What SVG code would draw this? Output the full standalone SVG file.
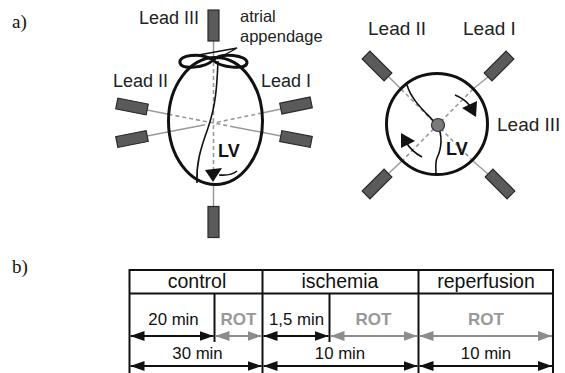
<svg xmlns="http://www.w3.org/2000/svg" width="565" height="373" viewBox="0 0 565 373">
  <defs>
    <style>
      .lbl { font-family: "Liberation Sans", Arial, sans-serif; font-size: 18px; fill: #222; }
      .lbl2 { font-family: "Liberation Sans", Arial, sans-serif; font-size: 19px; fill: #222; }
      .ann { font-family: "Liberation Sans", Arial, sans-serif; font-size: 16.5px; fill: #222; }
      .lv { font-family: "Liberation Sans", Arial, sans-serif; font-size: 18px; font-weight: bold; fill: #111; }
      .tag { font-family: "Liberation Serif", "Times New Roman", serif; font-size: 19px; fill: #111; }
      .hdr { font-family: "Liberation Sans", Arial, sans-serif; font-size: 19.5px; fill: #111; text-anchor: middle; }
      .tbl { font-family: "Liberation Sans", Arial, sans-serif; font-size: 16.8px; fill: #111; text-anchor: middle; }
      .rot { font-family: "Liberation Sans", Arial, sans-serif; font-size: 17px; font-weight: bold; fill: #999; text-anchor: middle; }
      .elec { fill: #5a5a5a; stroke: #2a2a2a; stroke-width: 1.2; }
      .wire { stroke: #9a9a9a; stroke-width: 1.5; fill: none; }
      .dash { stroke: #9a9a9a; stroke-width: 1.6; stroke-dasharray: 4 3; fill: none; }
      .heart { fill: none; stroke: #111; stroke-width: 3; }
      .sep { fill: none; stroke: #111; stroke-width: 1.6; }
      .grid { stroke: #111; stroke-width: 2; fill: none; }
      .blk { stroke: #111; stroke-width: 2; fill: none; }
      .gry { stroke: #8c8c8c; stroke-width: 2; fill: none; }
    </style>
    <marker id="ab" viewBox="0 0 14 10" refX="14" refY="5" markerWidth="14" markerHeight="10" markerUnits="userSpaceOnUse" orient="auto-start-reverse">
      <path d="M0,0 L14,5 L0,10 Z" fill="#111"/>
    </marker>
    <marker id="ag" viewBox="0 0 14 10" refX="14" refY="5" markerWidth="14" markerHeight="10" markerUnits="userSpaceOnUse" orient="auto-start-reverse">
      <path d="M0,0 L14,5 L0,10 Z" fill="#8c8c8c"/>
    </marker>
  </defs>

  <rect width="565" height="373" fill="#fff"/>

  <text class="tag" x="12" y="28">a)</text>
  <text class="tag" x="12" y="273">b)</text>

  <!-- Frontal view: elliptical heart with three limb leads -->
  <g id="heart-front">
    <g id="front-wires">
      <line class="wire" x1="213.5" y1="41" x2="213.5" y2="58"/>
      <line class="dash" x1="213.5" y1="62" x2="213.5" y2="170" stroke-dasharray="3 3"/>
      <line class="wire" x1="213.5" y1="185" x2="213.5" y2="207"/>
      <line class="wire" x1="147" y1="110" x2="168.5" y2="114.3"/>
      <line class="dash" x1="168.5" y1="114.3" x2="213.5" y2="123"/>
      <line class="wire" x1="147" y1="136" x2="205" y2="124.7"/>
      <line class="wire" x1="281" y1="109" x2="262" y2="113"/>
      <line class="dash" x1="262" y1="113" x2="213.5" y2="123"/>
      <line class="wire" x1="281" y1="136" x2="234" y2="127"/>
      <line class="dash" x1="234" y1="127" x2="213.5" y2="123"/>
    </g>
    <ellipse class="heart" cx="215.5" cy="121" rx="47" ry="63.5"/>
    <path class="heart" stroke-width="2.4" d="M213,60 C200,52 178,55 180,63 C182,70 205,68 213,60 C221,52 248,55 247,63 C246,70 221,68 213,60 Z"/>
    <path class="sep" d="M218,61 C217,85 216,105 208,128 C200,150 196,165 197,183"/>
    <path fill="none" stroke="#111" stroke-width="1.6" d="M237,171 Q231,176 219,175"/>
    <polygon points="205,170 222,168 213,182" fill="#111"/>
    <text class="lv" x="218" y="157">LV</text>
    <g id="front-electrodes">
      <rect class="elec" x="-15.5" y="-5.5" width="31" height="11" transform="translate(213.5,25.5) rotate(90)"/>
      <rect class="elec" x="-15.5" y="-5.5" width="31" height="11" transform="translate(213.5,222) rotate(90)"/>
      <rect class="elec" x="-15.5" y="-5.5" width="31" height="11" transform="translate(132,106.5) rotate(11.2)"/>
      <rect class="elec" x="-15.5" y="-5.5" width="31" height="11" transform="translate(132,139) rotate(-11.2)"/>
      <rect class="elec" x="-15.5" y="-5.5" width="31" height="11" transform="translate(296,105.5) rotate(-11.6)"/>
      <rect class="elec" x="-15.5" y="-5.5" width="31" height="11" transform="translate(296,139) rotate(11)"/>
    </g>
    <g id="front-labels">
      <text class="lbl" x="139" y="24">Lead III</text>
      <text class="lbl" x="113" y="87">Lead II</text>
      <text class="lbl" x="261" y="87">Lead I</text>
      <text class="ann" x="240" y="22">atrial</text>
      <text class="ann" x="240" y="42">appendage</text>
      <path fill="none" stroke="#111" stroke-width="1.4" d="M193,56 L237,48 L217,59"/>
    </g>
  </g>

  <!-- Transverse view: circular heart with diagonal leads -->
  <g id="heart-axial">
    <g id="axial-wires">
      <line class="wire" x1="389" y1="77" x2="401" y2="89"/>
      <line class="dash" x1="401" y1="89" x2="473" y2="161"/>
      <line class="wire" x1="473" y1="161" x2="488" y2="174"/>
      <line class="wire" x1="488" y1="77" x2="473" y2="89"/>
      <line class="dash" x1="473" y1="89" x2="402" y2="161"/>
      <line class="wire" x1="402" y1="161" x2="389" y2="173"/>
    </g>
    <circle class="heart" cx="437" cy="124" r="50.5"/>
    <path class="sep" d="M407,85 C412,102 428,114 436,124 C444,134 441,150 437,158 C435,163 436,168 436,175"/>
    <circle cx="438" cy="125" r="6.5" fill="#7a7a7a" stroke="#333" stroke-width="1.2"/>
    <path fill="none" stroke="#111" stroke-width="1.6" d="M455,95 Q465,99 470,106"/>
    <polygon points="462,108 477,101 476,117" fill="#111"/>
    <path fill="none" stroke="#111" stroke-width="1.6" d="M422,157 Q411,151 406,142"/>
    <polygon points="401,133 415,141 401,148" fill="#111"/>
    <text class="lv" x="446" y="155">LV</text>
    <g id="axial-electrodes">
      <rect class="elec" x="-15.5" y="-5.5" width="31" height="11" transform="translate(377,66) rotate(45)"/>
      <rect class="elec" x="-15.5" y="-5.5" width="31" height="11" transform="translate(499,66) rotate(-45)"/>
      <rect class="elec" x="-15.5" y="-5.5" width="31" height="11" transform="translate(377,184) rotate(-45)"/>
      <rect class="elec" x="-15.5" y="-5.5" width="31" height="11" transform="translate(500,184) rotate(45)"/>
    </g>
    <text class="lbl2" x="368" y="35">Lead II</text>
    <text class="lbl2" x="463" y="35">Lead I</text>
    <text class="lbl2" x="497" y="131">Lead III</text>
  </g>

  <!-- Protocol timeline table -->
  <g id="protocol">
    <g id="table-grid">
      <line class="grid" x1="129" y1="270" x2="553.5" y2="270"/>
      <line class="grid" x1="129" y1="293.5" x2="553.5" y2="293.5"/>
      <line class="grid" x1="129.5" y1="269" x2="129.5" y2="373"/>
      <line class="grid" x1="262.5" y1="269" x2="262.5" y2="373"/>
      <line class="grid" x1="418.5" y1="269" x2="418.5" y2="373"/>
      <line class="grid" x1="553" y1="269" x2="553" y2="373"/>
      <line class="grid" x1="214.5" y1="293" x2="214.5" y2="342"/>
      <line class="grid" x1="329.5" y1="293" x2="329.5" y2="342"/>
    </g>
    <text class="hdr" x="197" y="288">control</text>
    <text class="hdr" x="340" y="288">ischemia</text>
    <text class="hdr" x="486" y="288">reperfusion</text>

    <text class="tbl" x="173.5" y="325">20 min</text>
    <text class="rot" x="238.5" y="325">ROT</text>
    <text class="tbl" x="296.5" y="325">1,5 min</text>
    <text class="rot" x="373.5" y="325">ROT</text>
    <text class="rot" x="486" y="325">ROT</text>

    <g id="arrows">
      <line class="blk" x1="130.5" y1="336" x2="213.5" y2="336" marker-start="url(#ab)" marker-end="url(#ab)"/>
      <line class="gry" x1="215.5" y1="336" x2="261.5" y2="336" marker-start="url(#ag)" marker-end="url(#ag)"/>
      <line class="blk" x1="263.5" y1="336" x2="328.5" y2="336" marker-start="url(#ab)" marker-end="url(#ab)"/>
      <line class="gry" x1="330.5" y1="336" x2="417.5" y2="336" marker-start="url(#ag)" marker-end="url(#ag)"/>
      <line class="gry" x1="419.5" y1="336" x2="552" y2="336" marker-start="url(#ag)" marker-end="url(#ag)"/>
      <line class="blk" x1="130.5" y1="366" x2="261.5" y2="366" marker-start="url(#ab)" marker-end="url(#ab)"/>
      <line class="blk" x1="263.5" y1="366" x2="417.5" y2="366" marker-start="url(#ab)" marker-end="url(#ab)"/>
      <line class="blk" x1="419.5" y1="366" x2="552" y2="366" marker-start="url(#ab)" marker-end="url(#ab)"/>
    </g>

    <text class="tbl" x="197.5" y="358.5">30 min</text>
    <text class="tbl" x="340" y="358.5">10 min</text>
    <text class="tbl" x="486" y="358.5">10 min</text>
  </g>
</svg>
